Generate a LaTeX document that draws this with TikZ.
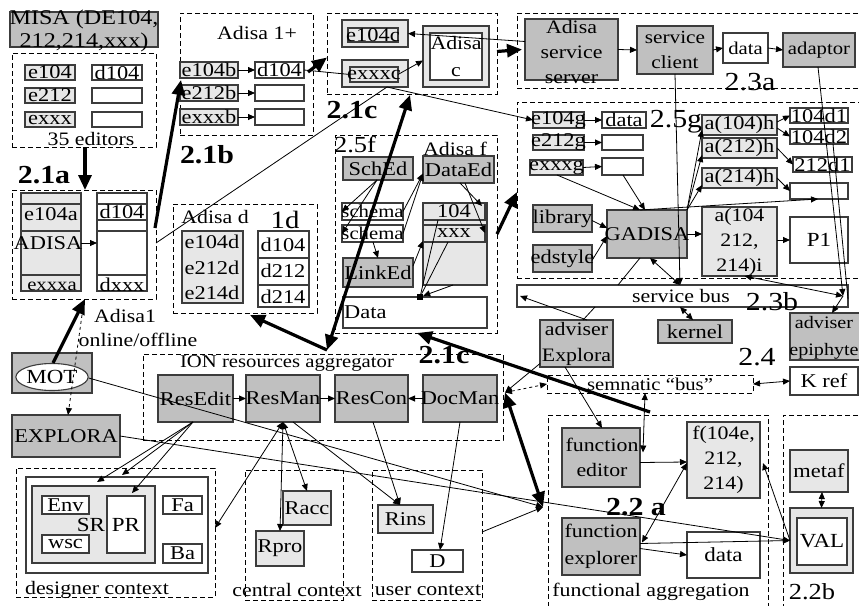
\documentclass[tikz,border=0pt]{standalone}
\usepackage{fontspec}
\setmainfont[FakeStretch=1.15]{Liberation Serif}
\usetikzlibrary{arrows.meta,calc,shapes.geometric}

\definecolor{gmid}{RGB}{192,192,192}
\definecolor{glt}{RGB}{231,231,231}
\definecolor{edge}{RGB}{60,60,60}

\newcommand\fs[2]{\fontsize{#1}{#2}\selectfont}

% box from corner (x1,y1) to (x2,y2) with a centred label node
\newcommand\bx[8][]{%
  \pgfmathsetmacro\bxw{abs(#6-#4)}%
  \pgfmathsetmacro\bxh{abs(#7-#5)}%
  \node[#2, minimum width=\bxw pt, minimum height=\bxh pt] (#3) at ({(#4+#6)/2},{(#5+#7)/2}) {};%
  \node[txt,#1] (#3-t) at (#3.center) {#8};%
}

\tikzset{
  box/.style={draw=edge, line width=1.1pt, inner sep=0pt, outer sep=0pt},
  gbox/.style={box, fill=gmid},
  lbox/.style={box, fill=glt},
  wbox/.style={box, fill=white},
  obox/.style={box},
  region/.style={draw=black, line width=0.9pt, dash pattern=on 5pt off 3pt, inner sep=0pt, outer sep=0pt},
  txt/.style={inner sep=0pt, font=\fs{18}{23}, align=center},
  etx/.style={font=\fs{19.5}{23}},
  big/.style={inner sep=0pt, font=\fs{26}{30}},
  bigb/.style={inner sep=0pt, font=\bfseries\fs{26}{30}},
  wire/.style={draw=black, line width=0.8pt},
  arr/.style={wire, -{Triangle[length=7pt,width=6pt]}},
  darr/.style={wire, {Triangle[length=7pt,width=6pt]}-{Triangle[length=7pt,width=6pt]}},
  fat/.style={draw=black, line width=3.2pt, -{Triangle[length=15pt,width=13pt]}},
  dfat/.style={draw=black, line width=3.2pt, {Triangle[length=15pt,width=13pt]}-{Triangle[length=15pt,width=13pt]}},
}

\begin{document}
\begin{tikzpicture}[x=1pt,y=-1pt]
\useasboundingbox (0,0) rectangle (859,605);
\clip (0,0) rectangle (859,605);

% ---------- dashed groups ----------
\bx{region}{d1}{12}{53}{156}{147}{}
\bx{region}{d2}{12}{190}{156}{299}{}
\bx{region}{d3}{180}{13}{313}{135}{}
\bx{region}{d4}{327}{13}{497}{94}{}
\bx{region}{d5}{517}{13}{866}{88}{}
\bx{region}{d6}{517}{102}{866}{278}{}
\bx{region}{d7}{335}{135}{497}{333}{}
\bx{region}{d8}{173}{204}{317}{313}{}
\bx{region}{d9}{143}{354}{503}{440}{}
\bx{region}{d10}{16}{468}{215}{597}{}
\bx{region}{d11}{245}{470}{343}{600}{}
\bx{region}{d12}{372}{470}{482}{600}{}
\bx{region}{d13}{548}{415}{768}{612}{}
\bx{region}{d14}{783}{415}{866}{612}{}
\bx{region}{semb}{547}{375}{753}{393}{semnatic “bus”}

% ---------- MISA editors ----------
\bx[font=\fs{21}{23}, yshift=-1pt]{gbox}{misa}{10}{12}{158}{47}{MISA (DE104,\\212,214,xxx)}
\bx[etx]{lbox}{e104}{25}{65}{75}{80}{e104}
\bx[etx]{wbox}{d104}{92}{65}{142}{80}{d104}
\bx[etx]{lbox}{e212}{25}{88}{75}{103}{e212}
\bx{wbox}{w212}{92}{88}{142}{103}{}
\bx[etx]{lbox}{exxx}{25}{112}{75}{127}{exxx}
\bx{wbox}{wxxx}{92}{112}{142}{127}{}
\node[txt, font=\fs{19}{23}] (ed35) at (91,139) {35 editors};

% ---------- ADISA ----------
\bx{lbox}{colA}{21}{193}{81}{291}{}
\bx{wbox}{colB}{97}{193}{147}{291}{}
\foreach \o in {11,38,82} \draw[box] ($(colA.north west)+(0,\o)$) -- ($(colA.north east)+(0,\o)$);
\foreach \o in {11,27,38,82} \draw[box] ($(colB.north west)+(0,\o)$) -- ($(colB.north east)+(0,\o)$);
\node[txt, etx] (colA-a) at ($(colA.north)+(0,21)$) {e104a};
\node[txt, etx] (colA-b) at ($(colA.north)+(-3,50)$) {ADISA};
\node[txt] (colA-c) at ($(colA.north)+(1,93)$) {exxxa};
\node[txt, etx] (colB-a) at ($(colB.north)+(0,19)$) {d104};
\node[txt, etx] (colB-c) at ($(colB.north)+(0,92)$) {dxxx};
\node[txt, font=\fs{19}{23}] (ad1) at (125,316) {Adisa1};
\node[txt, font=\fs{19}{23}] (onoff) at (138,340) {online/offline};

% ---------- MOT / EXPLORA ----------
\bx{gbox}{motbox}{12}{353}{92}{393}{}
\node[ellipse, draw=edge, fill=white, line width=1.1pt, minimum width=68pt, minimum height=27pt, inner sep=0pt, font=\fs{20}{22}] (mot) at (52,377) {MOT};
\bx[font=\fs{19.5}{22}]{gbox}{explora}{12}{415}{120}{457}{EXPLORA}

% ---------- Adisa 1+ ----------
\node[txt, font=\fs{19}{23}] (a1p) at (257,33) {Adisa 1+};
\bx[etx]{lbox}{e104b}{180}{62}{238}{78}{e104b}
\bx[etx]{wbox}{d104b}{255}{62}{304}{78}{d104}
\bx[etx]{lbox}{e212b}{180}{85}{238}{101}{e212b}
\bx{wbox}{w212b}{255}{85}{304}{101}{}
\bx[etx]{lbox}{exxxb}{180}{109}{238}{125}{exxxb}
\bx{wbox}{wxxxb}{255}{109}{304}{125}{}

% ---------- Adisa c ----------
\bx{lbox}{e104c}{342}{20}{408}{47}{}
\bx[etx]{obox}{e104ci}{348}{28}{398}{42}{e104c}
\bx{lbox}{exxxc}{342}{60}{408}{87}{}
\bx[etx]{obox}{exxxci}{350}{67}{398}{82}{exxxc}
\bx{lbox}{adisac}{423}{26}{489}{87}{}
\bx[font=\fs{19}{26}]{wbox}{adisaci}{430}{33}{482}{80}{Adisa\\c}

% ---------- 2.3a services ----------
\bx[font=\fs{19}{25}, yshift=-2pt]{gbox}{sserver}{525}{19}{618}{80}{Adisa\\service\\server}
\bx[font=\fs{18.5}{25}]{gbox}{sclient}{637}{26}{713}{74}{service\\client}
\bx{wbox}{data1}{723}{33}{768}{63}{data}
\bx{gbox}{adaptor}{783}{33}{855}{67}{adaptor}

% ---------- 2.5g ----------
\bx[etx]{lbox}{e104g}{533}{112}{584}{128}{e104g}
\bx[etx]{wbox}{data2}{602}{112}{646}{128}{data}
\bx[etx]{lbox}{e212g}{533}{135}{584}{150}{e212g}
\bx{wbox}{w2}{602}{135}{643}{150}{}
\bx[etx]{lbox}{exxxg}{530}{160}{583}{175}{exxxg}
\bx{wbox}{w3}{602}{158}{643}{175}{}
\bx[etx]{lbox}{ah1}{702}{115}{777}{135}{a(104)h}
\bx[etx]{lbox}{ah2}{702}{138}{777}{158}{a(212)h}
\bx[etx]{lbox}{ah3}{702}{168}{777}{188}{a(214)h}
\bx[etx]{wbox}{d1a}{790}{108}{848}{123}{104d1}
\bx[etx]{wbox}{d1b}{790}{129}{848}{144}{104d2}
\bx[etx]{wbox}{d2a}{793}{157}{852}{172}{212d1}
\bx{wbox}{dbl}{790}{183}{848}{199}{}
\bx[etx]{gbox}{library}{533}{205}{592}{232}{library}
\bx[etx]{gbox}{edstyle}{533}{245}{592}{272}{edstyle}
\bx[etx]{gbox}{gadisa}{607}{210}{687}{258}{GADISA}
\bx[font=\fs{19}{25}]{lbox}{ai}{702}{207}{777}{276}{a(104\\212,\\214)i}
\bx[font=\fs{20}{23}]{wbox}{P1}{790}{217}{848}{263}{P1}

% ---------- service bus and advisers ----------
\bx{wbox}{sbus}{517}{285}{848}{307}{}
\node[txt, font=\fs{19}{23}] (sbus-l) at (681,296) {service bus};
\bx[etx]{gbox}{kernel}{658}{320}{732}{343}{kernel}
\bx{gbox}{advep}{790}{313}{870}{360}{}
\node[txt, font=\fs{17.5}{27}] (advep-l) at (824,338) {adviser\\epiphyte};
\bx[font=\fs{19}{26}]{gbox}{advex}{540}{320}{613}{367}{adviser\\Explora}
\bx[font=\fs{19.5}{23}]{wbox}{kref}{790}{367}{858}{395}{K ref}

% ---------- 2.5f ----------
\bx[etx]{gbox}{sched}{343}{157}{413}{180}{SchEd}
\bx[etx]{gbox}{dataed}{423}{156}{494}{183}{DataEd}
\bx{wbox}{schema1}{342}{203}{403}{220}{schema}
\bx{wbox}{schema2}{342}{225}{403}{242}{schema}
\bx[etx]{gbox}{linked}{343}{258}{413}{287}{LinkEd}
\bx{lbox}{panel}{423}{203}{487}{285}{}
\bx[etx]{lbox}{b104}{423}{203}{485}{220}{104}
\bx[etx]{lbox}{bxxx}{423}{225}{485}{242}{xxx}
\bx{wbox}{datab}{343}{297}{487}{328}{}
\node[txt, etx, anchor=west] (datab-l) at ($(datab.west)+(1,0)$) {Data};
\node[fill=black, minimum size=6pt, inner sep=0pt] (dot) at ($(datab.north west)+(77,0)$) {};

% ---------- Adisa d ----------
\bx{lbox}{dcolL}{182}{231}{243}{303}{}
\bx{wbox}{dcolR}{258}{231}{309}{307}{}
\foreach \o in {27,54} \draw[box] ($(dcolR.north west)+(0,\o)$) -- ($(dcolR.north east)+(0,\o)$);
\node[txt, etx] (dl1) at (212,242) {e104d};
\node[txt, etx] (dl2) at (212,268) {e212d};
\node[txt, etx] (dl3) at (212,293) {e214d};
\node[txt, etx] (dr1) at (283,245) {d104};
\node[txt, etx] (dr2) at (283,271) {d212};
\node[txt, etx] (dr3) at (283,297) {d214};

% ---------- ION aggregator ----------
\bx[etx]{gbox}{resedit}{158}{375}{233}{422}{ResEdit}
\bx[etx]{gbox}{resman}{246}{375}{320}{422}{ResMan}
\bx[etx]{gbox}{rescon}{335}{375}{408}{422}{ResCon}
\bx[etx]{gbox}{docman}{423}{375}{497}{422}{DocMan}

% ---------- contexts ----------
\bx{wbox}{outer}{26}{477}{208}{573}{}
\bx{lbox}{sr}{32}{486}{155}{563}{}
\bx[etx]{wbox}{env}{42}{496}{89}{514}{Env}
\bx[etx]{wbox}{wsc}{42}{535}{89}{553}{wsc}
\bx[font=\fs{20}{23}]{wbox}{pr}{107}{496}{145}{553}{PR}
\bx[etx]{wbox}{fa}{163}{496}{202}{514}{Fa}
\bx[etx]{wbox}{ba}{163}{544}{202}{563}{Ba}
\node[txt, font=\fs{20}{23}] (sr-l) at (91,525) {SR};
\bx[etx]{lbox}{racc}{283}{491}{331}{525}{Racc}
\bx[etx]{lbox}{rpro}{256}{531}{304}{566}{Rpro}
\bx[etx]{lbox}{rins}{378}{505}{433}{533}{Rins}
\bx[etx]{wbox}{D}{412}{550}{463}{572}{D}

% ---------- functional aggregation ----------
\bx[font=\fs{19}{25}, xshift=1pt]{gbox}{fed}{562}{428}{640}{487}{function\\editor}
\bx[font=\fs{19}{27}]{gbox}{fexpl}{562}{518}{640}{575}{function\\explorer}
\bx[font=\fs{19}{25}]{lbox}{fbox}{687}{422}{760}{498}{f(104e,\\212,\\214)}
\bx[font=\fs{20}{23}]{wbox}{data3}{687}{532}{760}{578}{data}
\bx[etx]{lbox}{metaf}{790}{450}{848}{492}{metaf}
\bx{lbox}{valo}{790}{508}{853}{573}{}
\bx[font=\fs{20}{22}]{wbox}{vali}{797}{518}{847}{565}{VAL}

% ---------- named points ----------
\coordinate (J) at ($(d13.north west)+(-5,92)$);
\coordinate (dk) at ($(docman.east)+(8,-6)$);
\coordinate (RM) at ($(resman.south west)+(37,0)$);
\coordinate (RE) at ($(resedit.south west)+(35,0)$);
\coordinate (ION) at ($(d9.north west)+(184,-4)$);
\coordinate (GA) at ($(gadisa.north west)+(33,0)$);
\coordinate (SB) at ($(sbus.east)+(-5,0)$);

% ---------- connectors: left part ----------
\draw[fat] ($(d1.south west)+(73,0)$) -- ($(d2.north west)+(73,0)$);
\draw[arr] ($(colA.east)+(0,1)$) -- ($(colB.west)+(0,1)$);
\draw[fat] ($(d2.north east)+(-1,38)$) -- ($(e104b.south west)+(1,2)$);
\draw[wire] ($(d2.north east)+(0,53)$) -- ($(exxxc.south west)+(45,0)$);
\draw[arr] (e104b.east) -- (d104b.west);
\draw[arr] (e212b.east) -- (w212b.west);
\draw[arr] (exxxb.east) -- (wxxxb.west);
\draw[fat] ($(d3.east)+(-5,-2)$) -- ($(d4.west)+(0,4)$);
\draw[wire] (d104b.east) -- (exxxci.west);
\draw[arr] (exxxci.east) -- ($(adisac.west)+(0,4)$);
\draw[arr] ($(sserver.west)+(0,-8)$) -- (e104c.east);
\draw[arr] ($(exxxc.south west)+(45,0)$) -- (e104g.west);
\draw[fat] ($(d4.east)+(0,-2)$) -- ($(sserver.west)+(-3,0)$);
\draw[fat] ($(mot.north)+(1,0)$) -- ($(d2.south west)+(73,0)$);
\draw[wire, dashed, -{Triangle[length=7pt,width=6pt]}] ($(d2.south west)+(70,16)$) -- ($(explora.north west)+(56,0)$);

% ---------- connectors: services ----------
\draw[arr] (sserver.east) -- (sclient.west);
\draw[arr] (sclient.east) -- (data1.west);
\draw[arr] (data1.east) -- (adaptor.west);
\draw[arr] (e104g.east) -- (data2.west);
\draw[arr] (e212g.east) -- (w2.west);
\draw[arr] (exxxg.east) -- (w3.west);
\draw[arr] ($(exxxg.south east)+(-26,0)$) -- (GA);
\draw[arr] ($(w3.south west)+(21,0)$) -- ($(gadisa.north west)+(38,0)$);
\draw[arr] ($(library.east)+(0,2)$) -- ($(gadisa.west)+(0,-6)$);
\draw[arr] ($(edstyle.east)+(0,2)$) -- ($(gadisa.west)+(0,2)$);
\draw[arr] (gadisa.east) -- (gadisa.east -| ai.west);
\draw[arr] (ai.east |- P1) -- (P1.west);
\draw[arr] (gadisa.north east) -- ($(ah1.south west)+(0,-5)$);
\draw[arr] (gadisa.north east) -- ($(ah2.south west)+(0,-3)$);
\draw[arr] (gadisa.north east) -- ($(ah3.south west)+(0,-3)$);
\draw[arr] ($(ah1.east)+(0,-3)$) -- (d1a.west);
\draw[arr] ($(ah1.east)+(0,3)$) -- (d1b.west);
\draw[arr] (ah2.east) -- (d2a.west);
\draw[arr] (ah3.east) -- (dbl.west);
\draw[arr] (GA) -- ($(dbl.south west)+(28,0)$);
\draw[arr] (sclient.south) -- ($(sbus.north west)+(163,0)$);
\draw[arr] ($(adaptor.south)+(-1,0)$) -- (SB);
\draw[wire] ($(d1b.south east)+(-15,0)$) -- ($(sbus.east)+(0,3)$);
\draw[darr] ($(ai.south)+(5,0)$) -- (SB);
\draw[darr] ($(gadisa.south west)+(43,0)$) -- ($(sbus.north west)+(163,0)$);
\draw[wire] ($(sbus.north west)+(101,0)$) -- ($(gadisa.south west)+(33,0)$);
\draw[darr] ($(sbus.south west)+(163,0)$) -- ($(kernel.north west)+(35,0)$);
\draw[arr] (SB) -- ($(advep.north west)+(42,0)$);
\draw[arr] ($(advex.north west)+(47,0)$) -- ($(sbus.west)+(3,0)$);
\draw[wire] ($(advex.north west)+(43,0)$) -- ($(sbus.south west)+(78,0)$);
\draw[arr] ($(advex.south west)+(25,0)$) -- ($(fed.north west)+(40,0)$);
\draw[arr] ($(advex.west)+(0,20)$) -- (dk);
\draw[darr, dashed] (dk) -- (semb.west);
\draw[darr] (semb.east) -- (kref.west);
\draw[darr] ($(semb.south west)+(98,0)$) -- ($(fed.east)+(3,-5)$);

% ---------- connectors: 2.5f ----------
\draw[arr] ($(sched.south west)+(34,0)$) -- (schema1.west);
\draw[arr] ($(sched.south west)+(34,0)$) -- (schema2.west);
\draw[arr] (schema1.east) -- ($(dataed.west)+(0,4)$);
\draw[arr] (schema2.east) -- ($(dataed.west)+(0,4)$);
\draw[arr] ($(dataed.south west)+(37,0)$) -- ($(b104.north east)+(-3,3)$);
\draw[arr] ($(dataed.south west)+(42,0)$) -- ($(bxxx.north east)+(0,8)$);
\draw[arr] ($(schema2.south west)+(31,0)$) -- ($(linked.north west)+(35,0)$);
\draw[arr] ($(linked.north east)+(0,8)$) -- ($(panel.north west)+(0,38)$);
\draw[wire] (dot) -- ($(bxxx.south west)+(25,0)$);
\draw[wire] (dot) -- ($(b104.south west)+(15,0)$);
\draw[arr] ($(panel.south west)+(30,0)$) -- (dot);
\draw[fat] (d7.east) -- ($(d6.west)+(0,2)$);

% ---------- connectors: aggregators ----------
\draw[dfat] (ION) -- ($(d4.south west)+(83,1)$);
\draw[fat] (ION) -- ($(d8.south west)+(77,2)$);
\draw[fat] ($(d13.north west)+(102,-3)$) -- ($(d7.south east)+(-80,0)$);
\draw[dfat] (dk) -- (J);
\draw[arr] (resedit.east) -- (resman.west);
\draw[arr] (resman.east) -- (rescon.west);
\draw[arr] (docman.west) -- (rescon.east);
\draw[arr] ($(docman.south west)+(37,0)$) -- ($(D.north west)+(28,0)$);
\draw[arr] ($(rescon.south west)+(38,0)$) -- ($(rins.north west)+(22,0)$);
\draw[arr] ($(resman.south west)+(47,0)$) -- ($(rins.north west)+(22,0)$);
\draw[darr] (RM) -- ($(racc.north west)+(24,0)$);
\draw[darr] (RM) -- ($(rpro.north west)+(24,0)$);
\draw[darr] (RM) -- ($(d10.north east)+(0,60)$);
\draw[arr] (RE) -- ($(sr.north west)+(65,-4)$);
\draw[arr] (RE) -- ($(outer.north west)+(96,-2)$);
\draw[arr] (RE) -- ($(pr.north)+(6,-3)$);
\draw[arr] ($(mot.east)+(0,1)$) -- (J);
\draw[arr] (explora.east) -- (valo.west);
\draw[arr] ($(d12.north east)+(0,62)$) -- (J);

% ---------- connectors: functional aggregation ----------
\draw[arr] ($(fed.east)+(0,5)$) -- ($(fbox.west)+(0,2)$);
\draw[darr] ($(fexpl.east)+(2,-4)$) -- ($(fbox.west)+(0,3)$);
\draw[arr] ($(fexpl.east)+(0,2)$) -- (data3.west);
\draw[arr] ($(fexpl.east)+(0,-3)$) -- (valo.west);
\draw[arr] (valo.west) -- ($(fbox.east)+(3,3)$);
\draw[darr] ($(metaf.south)+(3,0)$) -- (valo.north);

% ---------- free labels ----------
\node[bigb] (l21a) at (44,175) {2.1a};
\node[bigb] (l21b) at (207,155) {2.1b};
\node[bigb] (l21c) at (352,110) {2.1c};
\node[bigb] (l21c2) at (444,355) {2.1c};
\node[big] (l23a) at (750,82) {2.3a};
\node[big, font=\fs{26}{30}] (l25g) at (676,122) {2.5g};
\node[big] (l23b) at (772,302) {2.3b};
\node[big] (l24) at (757,357) {2.4};
\node[big, font=\fs{23}{26}] (l25f) at (355,145) {2.5f};
\node[txt, font=\fs{19}{23}] (adf) at (455,149) {Adisa f};
\node[txt, font=\fs{19}{23}] (add) at (215,217) {Adisa d};
\node[big, font=\fs{25}{28}] (l1d) at (285,220) {1d};
\node[txt] (ionl) at (287,363) {ION resources aggregator};
\node[txt, font=\fs{19}{23}] (dctx) at (97,590) {designer context};
\node[txt, font=\fs{19}{23}] (cctx) at (297,590) {central context};
\node[txt, font=\fs{19}{23}] (uctx) at (428,590) {user context};
\node[txt, font=\fs{19}{23}] (fagg) at (651,592) {functional aggregation};
\node[big, font=\fs{23}{26}] (l22b) at (812,592) {2.2b};
\node[bigb] (l22a) at (636,507) {2.2 a};
\end{tikzpicture}
\end{document}
